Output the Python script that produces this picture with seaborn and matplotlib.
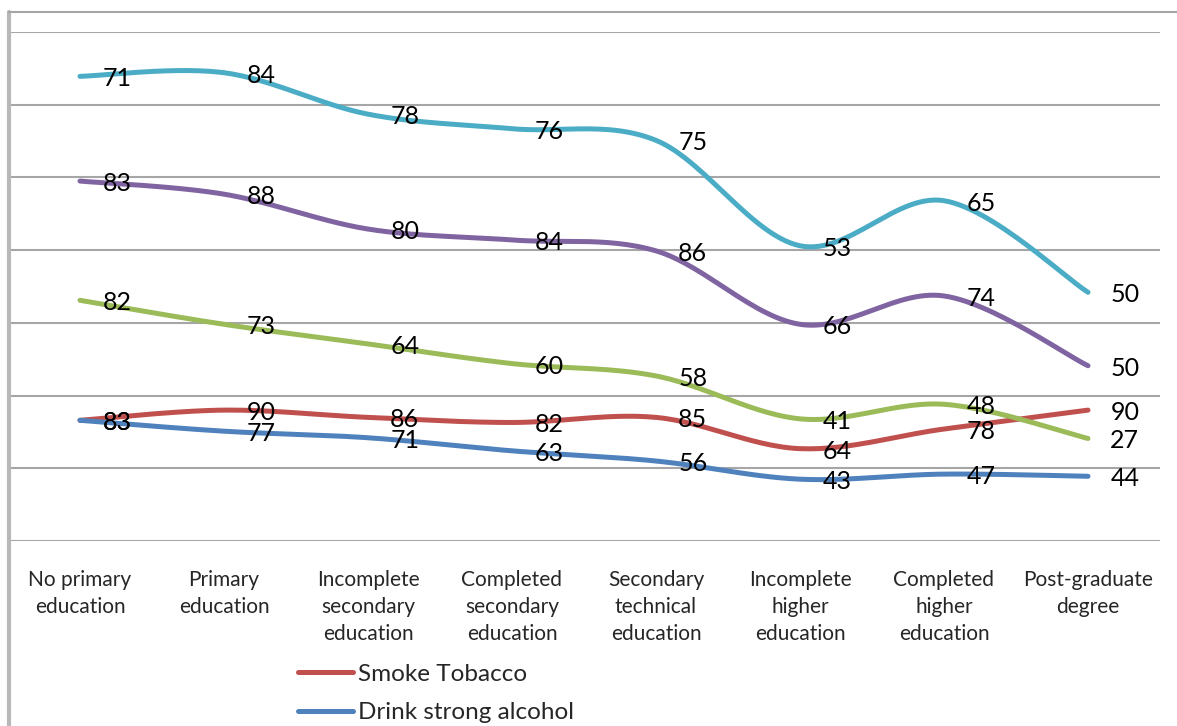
import numpy as np
import pandas as pd
import matplotlib
matplotlib.use("Agg")
import matplotlib.pyplot as plt
from matplotlib.lines import Line2D
import seaborn as sns

# categories on the x axis
categories = [
    "No primary\neducation", "Primary\neducation", "Incomplete\nsecondary\neducation",
    "Completed\nsecondary\neducation", "Secondary\ntechnical\neducation",
    "Incomplete\nhigher\neducation", "Completed\nhigher\neducation", "Post-graduate\ndegree",
]

# line heights (gridline = 10)
tobacco_y = [16.6, 18.0, 17.0, 16.3, 17.0, 12.7, 15.4, 18.0]
alcohol_y = [16.6, 15.1, 14.2, 12.4, 11.0, 8.5, 9.2, 8.9]
green_y = [33.1, 29.8, 27.1, 24.4, 22.7, 16.8, 18.8, 14.1]
purple_y = [49.5, 47.7, 42.9, 41.4, 39.9, 29.8, 33.7, 24.1]
teal_y = [63.9, 64.4, 58.7, 56.7, 55.1, 40.6, 46.8, 34.2]

# numbers printed next to each point
tobacco_lbl = [83, 90, 86, 82, 85, 64, 78, 90]
alcohol_lbl = [83, 77, 71, 63, 56, 43, 47, 44]
green_lbl = [82, 73, 64, 60, 58, 41, 48, 27]
purple_lbl = [83, 88, 80, 84, 86, 66, 74, 50]
teal_lbl = [71, 84, 78, 76, 75, 53, 65, 50]

series = [
    ("Smoke Tobacco", tobacco_y, tobacco_lbl, "#C0504D"),
    ("Drink strong alcohol", alcohol_y, alcohol_lbl, "#4F81BD"),
    (None, green_y, green_lbl, "#9BBB59"),
    (None, purple_y, purple_lbl, "#8064A2"),
    (None, teal_y, teal_lbl, "#4BACC6"),
]


def smooth_curve(xs, ys, n=30):
    # Excel-style smoothed line (Catmull-Rom through the points)
    p = np.column_stack([xs, ys]).astype(float)
    p = np.vstack([p[0], p, p[-1]])
    out = []
    for i in range(1, len(p) - 2):
        p0, p1, p2, p3 = p[i - 1], p[i], p[i + 1], p[i + 2]
        t = np.linspace(0, 1, n, endpoint=(i == len(p) - 3))[:, None]
        seg = 0.5 * ((2 * p1) + (-p0 + p2) * t + (2 * p0 - 5 * p1 + 4 * p2 - p3) * t**2
                     + (-p0 + 3 * p1 - 3 * p2 + p3) * t**3)
        out.append(seg)
    out = np.vstack(out)
    return out[:, 0], out[:, 1]


sns.set_theme(style="white")
plt.rcParams["font.family"] = ["Lato", "DejaVu Sans"]

fig = plt.figure(figsize=(11.77, 7.26), dpi=100)
ax = fig.add_axes([8 / 1177, 1 - 541 / 726, 1152 / 1177, 509 / 726])

xpos = np.arange(len(categories)) + 0.5
handles = []
for name, ys, lbls, col in series:
    sx, sy = smooth_curve(xpos, ys)
    df = pd.DataFrame({"x": sx, "y": sy})
    sns.lineplot(data=df, x="x", y="y", sort=False, estimator=None, color=col,
                 linewidth=3.6, ax=ax, solid_capstyle="round")
    if name:
        handles.append(Line2D([0], [0], color=col, lw=3.6, solid_capstyle="round", label=name))

for name, ys, lbls, col in series:
    for x, y, lab in zip(xpos, ys, lbls):
        ax.annotate(str(lab), (x, y), xytext=(26.5, -1.8), textcoords="offset points",
                    ha="center", va="center", fontsize=18, color="black")

ax.set_xlim(0, 8)
ax.set_ylim(0, 70)
ax.set_yticks(np.arange(0, 71, 10))
ax.set_yticklabels([])
ax.set_xticks(xpos)
ax.set_xticklabels(categories, fontsize=15, linespacing=1.44, va="top")
ax.tick_params(axis="x", length=0, pad=21)
ax.tick_params(axis="y", length=0)
ax.grid(axis="y", color="#a6a6a6", linewidth=1.5)
ax.grid(axis="x", visible=False)
for s in ax.spines.values():
    s.set_visible(False)
ax.set_xlabel("")
ax.set_ylabel("")

# chart border
fig.add_artist(Line2D([9 / 1177, 9 / 1177], [0, 1 - 12 / 726], color="#b8b8b8", lw=3,
                      transform=fig.transFigure))
fig.add_artist(Line2D([9 / 1177, 1], [1 - 12 / 726, 1 - 12 / 726], color="#a6a6a6", lw=1.5,
                      transform=fig.transFigure))

fig.legend(handles=handles, loc="upper left", bbox_to_anchor=(298 / 1177, 1 - 663.5 / 726),
           frameon=False, fontsize=17.5, handlelength=2.26, handletextpad=0.2,
           labelspacing=0.72, borderpad=0, borderaxespad=0)

fig.savefig("out.png", dpi=100)
